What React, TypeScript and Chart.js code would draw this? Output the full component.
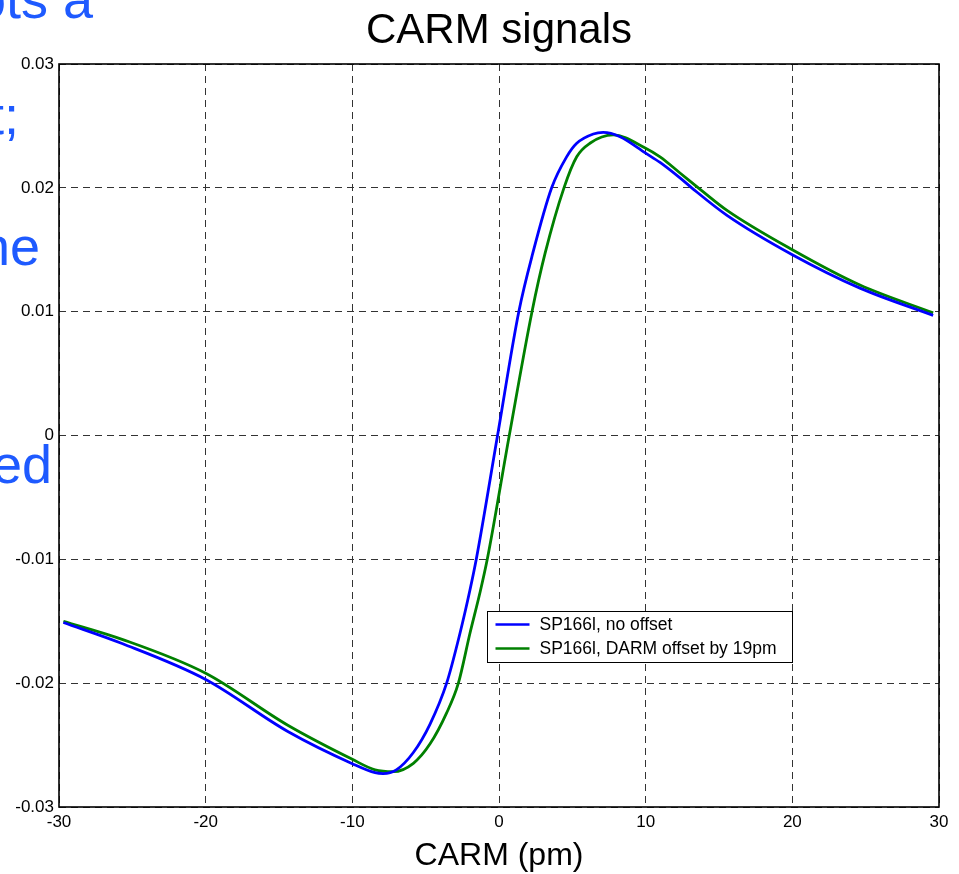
import React, { useEffect, useRef } from "react";
import { Chart, registerables } from "chart.js";

Chart.register(...registerables);

const FONT = "'Liberation Sans', Arial, Helvetica, sans-serif";

// ---- data ----
const titleText = "CARM signals";
const xAxisLabel = "CARM (pm)";
const seriesLabels = ["SP166l, no offset", "SP166l, DARM offset by 19pm"];

const xMin = -30;
const xMax = 30;
const xStep = 10;
const yMin = -0.03;
const yMax = 0.03;
const yStep = 0.01;

const blueX = [-29.7, -25.7, -20, -14.4, -10, -8.45, -7.9, -7.0, -5.84, -4.7, -3.57, -2.66, -1.98, -1.55, -0.1, 1.35, 2.3, 3.59, 4.61, 5.3, 6.43, 7.1, 8.25, 10, 10.98, 12.34, 13.14, 15.52, 20, 24.61, 29.6];
const blueY = [-0.0151, -0.0168, -0.0197, -0.0239, -0.0265, -0.02723, -0.0273, -0.027, -0.0256, -0.0233, -0.02, -0.01597, -0.01248, -0.01, 0, 0.01, 0.0147, 0.02, 0.0225, 0.0236, 0.02435, 0.02448, 0.02413, 0.0228, 0.02205, 0.0208, 0.02, 0.0178, 0.0146, 0.0119, 0.0097];

const greenX = [-29.7, -25.7, -20, -14.4, -10, -8.45, -7.2, -5.84, -4.7, -3.57, -2.77, -1.98, -1.3, -0.8, 0.7, 2.25, 3.14, 4.43, 5.3, 6.2, 7.79, 10, 10.98, 12.34, 13.8, 15.52, 20, 24.61, 29.6];
const greenY = [-0.015, -0.01646, -0.0192, -0.0234, -0.02615, -0.027, -0.02715, -0.02647, -0.0249, -0.0224, -0.02, -0.01597, -0.0127, -0.01, 0, 0.01, 0.0147, 0.02, 0.02251, 0.0236, 0.02427, 0.0232, 0.0225, 0.0212, 0.0198, 0.0182, 0.015, 0.01215, 0.0099];

const slideFragments = ["ots a", "t;", "ne", "ed"];

// ---- styles / layout (not data) ----
const seriesColors = ["#0000ff", "#008000"];
const fragmentLayout = [
  { right: 93, baseline: 18 },
  { right: 19, baseline: 134 },
  { right: 40, baseline: 265 },
  { right: 52, baseline: 483 },
];
const FRAG_SIZE = 54;
const FRAG_COLOR = "rgb(30, 90, 255)";

const decorPlugin = {
  id: "decor",
  afterDraw(chart: any) {
    const { ctx, chartArea: a } = chart;
    ctx.save();
    // axes box
    ctx.strokeStyle = "#000";
    ctx.lineWidth = 1.6;
    ctx.setLineDash([]);
    ctx.strokeRect(a.left, a.top, a.right - a.left, a.bottom - a.top);

    const cx = (a.left + a.right) / 2;
    ctx.fillStyle = "#000";
    ctx.textAlign = "center";
    ctx.textBaseline = "alphabetic";
    ctx.font = `42px ${FONT}`;
    ctx.fillText(titleText, cx, a.top - 21);
    ctx.font = `32px ${FONT}`;
    ctx.fillText(xAxisLabel, cx, a.bottom + 58);

    // legend
    const lx = a.left + 428.5;
    const ly = a.top + 547.5;
    const lw = 305;
    const lh = 51;
    ctx.fillStyle = "#fff";
    ctx.fillRect(lx, ly, lw, lh);
    ctx.strokeStyle = "#000";
    ctx.lineWidth = 1;
    ctx.strokeRect(lx, ly, lw, lh);
    ctx.font = `17.5px ${FONT}`;
    ctx.textAlign = "left";
    ctx.textBaseline = "middle";
    chart.data.datasets.forEach((ds: any, i: number) => {
      const yy = ly + 13 + i * 24;
      ctx.strokeStyle = ds.borderColor;
      ctx.lineWidth = 2.6;
      ctx.beginPath();
      ctx.moveTo(lx + 8, yy);
      ctx.lineTo(lx + 42, yy);
      ctx.stroke();
      ctx.fillStyle = "#000";
      ctx.fillText(ds.label, lx + 52, yy + 1);
    });
    ctx.restore();
  },
};

function toPoints(xs: number[], ys: number[]) {
  return xs.map((x, i) => ({ x, y: ys[i] }));
}

export default function App() {
  const ref = useRef<HTMLCanvasElement | null>(null);

  useEffect(() => {
    if (!ref.current) return;
    const chart = new Chart(ref.current, {
      type: "scatter",
      data: {
        datasets: [
          {
            label: seriesLabels[0],
            data: toPoints(blueX, blueY),
            showLine: true,
            borderColor: seriesColors[0],
            backgroundColor: seriesColors[0],
            borderWidth: 2.8,
            pointRadius: 0,
            cubicInterpolationMode: "monotone",
          },
          {
            label: seriesLabels[1],
            data: toPoints(greenX, greenY),
            showLine: true,
            borderColor: seriesColors[1],
            backgroundColor: seriesColors[1],
            borderWidth: 2.8,
            pointRadius: 0,
            cubicInterpolationMode: "monotone",
          },
        ],
      },
      options: {
        responsive: false,
        animation: false,
        devicePixelRatio: 1,
        layout: { padding: { top: 64, right: 20, left: 0, bottom: 0 } },
        plugins: {
          legend: { display: false },
          title: { display: false },
          tooltip: { enabled: false },
        },
        scales: {
          x: {
            type: "linear",
            min: xMin,
            max: xMax,
            ticks: {
              stepSize: xStep,
              color: "#000",
              padding: 5,
              maxRotation: 0,
              font: { family: FONT, size: 17 },
            },
            grid: { color: "#333", lineWidth: 1, drawTicks: false },
            border: { display: false, dash: [7, 5] },
            afterFit(scale: any) {
              scale.height = 67;
            },
          },
          y: {
            type: "linear",
            min: yMin,
            max: yMax,
            ticks: {
              stepSize: yStep,
              color: "#000",
              padding: 5,
              font: { family: FONT, size: 17 },
              callback: (v: any) => {
                const r = Math.round(Number(v) * 100) / 100;
                return r === 0 ? "0" : String(r);
              },
            },
            grid: { color: "#333", lineWidth: 1, drawTicks: false },
            border: { display: false, dash: [7, 5] },
            afterFit(scale: any) {
              scale.width = 59;
            },
          },
        },
      },
      plugins: [decorPlugin],
    } as any);
    return () => chart.destroy();
  }, []);

  return (
    <div
      style={{
        position: "absolute",
        left: 0,
        top: 0,
        width: 959,
        height: 874,
        background: "#fff",
        overflow: "hidden",
      }}
    >
      {slideFragments.map((t, i) => (
        <div
          key={i}
          style={{
            position: "absolute",
            left: fragmentLayout[i].right - 400,
            width: 400,
            top: fragmentLayout[i].baseline - 0.8465 * FRAG_SIZE,
            textAlign: "right",
            whiteSpace: "nowrap",
            fontFamily: FONT,
            fontSize: FRAG_SIZE,
            lineHeight: 1,
            color: FRAG_COLOR,
          }}
        >
          {t}
        </div>
      ))}
      <canvas
        ref={ref}
        width={959}
        height={874}
        style={{ position: "absolute", left: 0, top: 0, width: 959, height: 874 }}
      />
    </div>
  );
}
